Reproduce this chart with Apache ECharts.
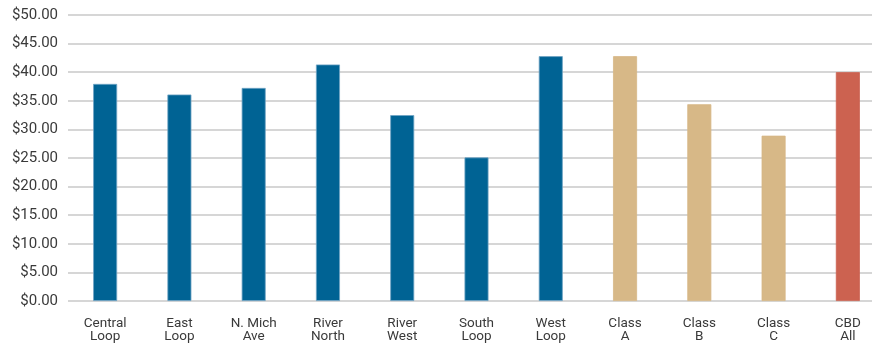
<!DOCTYPE html>
<html>
<head>
<meta charset="utf-8">
<script src="https://cdn.jsdelivr.net/npm/echarts@6/dist/echarts.min.js"></script>
<style>
  html, body { margin: 0; padding: 0; background: #fff; }
  #chart { width: 872px; height: 344px; }
</style>
</head>
<body>
<div id="chart"></div>
<script>
// categories and rents
const categories = ["Central\nLoop", "East\nLoop", "N. Mich\nAve", "River\nNorth", "River\nWest",
  "South\nLoop", "West\nLoop", "Class\nA", "Class\nB", "Class\nC", "CBD\nAll"];
const rents = [37.95, 36.1, 37.25, 41.35, 32.5, 25.1, 42.8, 42.8, 34.4, 28.9, 40.0];
const groups = ["sub", "sub", "sub", "sub", "sub", "sub", "sub", "class", "class", "class", "all"];

const groupColors = {
  sub: "#006394",   // submarkets
  class: "#D7B887", // building class
  all: "#CC6250",   // CBD total
};
const groupBorders = {
  sub: "#6FA3C4",
  class: "#D7B887",
  all: "#CC6250",
};

const chart = echarts.init(document.getElementById("chart"), null, { renderer: "canvas" });

const option = {
  animation: false,
  // plot runs past the right edge, like the source
  grid: { left: 68, width: 817, top: 15, bottom: 43, outerBoundsMode: "none" },
  xAxis: {
    type: "category",
    data: categories,
    axisLine: { show: false },
    axisTick: { show: false },
    axisLabel: {
      color: "#3a3a3a",
      fontFamily: "Roboto",
      fontSize: 13.5,
      lineHeight: 13,
      margin: 16,
      interval: 0,
    },
  },
  yAxis: {
    type: "value",
    min: 0,
    max: 50,
    interval: 5,
    axisLine: { show: false },
    axisTick: { show: false },
    axisLabel: {
      color: "#3a3a3a",
      fontFamily: "Roboto",
      fontSize: 15,
      margin: 10,
      formatter: (v) => "$" + v.toFixed(2),
    },
    splitLine: { lineStyle: { color: "#d6d6d6", width: 2 } },
  },
  series: [
    {
      type: "bar",
      barWidth: 24,
      data: rents.map((v, i) => ({
        value: v,
        itemStyle: {
          color: groupColors[groups[i]],
          borderColor: groupBorders[groups[i]],
          borderWidth: 0.8,
        },
      })),
    },
  ],
};

chart.setOption(option);
</script>
</body>
</html>
